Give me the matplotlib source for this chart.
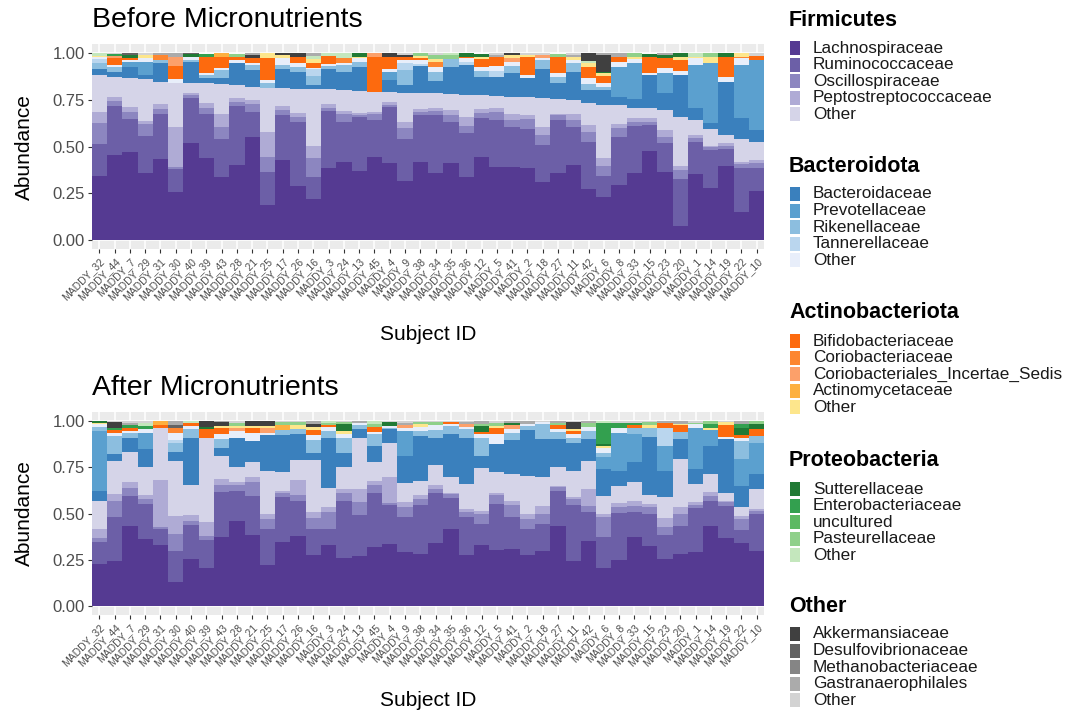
import numpy as np
import matplotlib
matplotlib.use("Agg")
import matplotlib.pyplot as plt
from matplotlib.patches import Rectangle

plt.rcParams["font.family"] = ["Liberation Sans", "DejaVu Sans"]

subjects = ["MADDY_32", "MADDY_44", "MADDY_7", "MADDY_29", "MADDY_31", "MADDY_30", "MADDY_40",
            "MADDY_39", "MADDY_43", "MADDY_28", "MADDY_21", "MADDY_25", "MADDY_17", "MADDY_26",
            "MADDY_16", "MADDY_3", "MADDY_24", "MADDY_13", "MADDY_45", "MADDY_4", "MADDY_9",
            "MADDY_38", "MADDY_34", "MADDY_35", "MADDY_36", "MADDY_12", "MADDY_5", "MADDY_41",
            "MADDY_2", "MADDY_18", "MADDY_27", "MADDY_11", "MADDY_42", "MADDY_6", "MADDY_8",
            "MADDY_33", "MADDY_15", "MADDY_23", "MADDY_20", "MADDY_1", "MADDY_14", "MADDY_19",
            "MADDY_22", "MADDY_10"]

# legend groups: (phylum, [(key, family, colour), ...])
groups = [
    ("Firmicutes", [("LA", "Lachnospiraceae", "#553a92"), ("RU", "Ruminococcaceae", "#6c5fa7"),
                    ("OS", "Oscillospiraceae", "#8c86c0"), ("PE", "Peptostreptococcaceae", "#afabd5"),
                    ("FO", "Other", "#d5d4e8")]),
    ("Bacteroidota", [("BA", "Bacteroidaceae", "#3a80bd"), ("PR", "Prevotellaceae", "#5ba0cf"),
                      ("RI", "Rikenellaceae", "#8cbedf"), ("TA", "Tannerellaceae", "#bad6ee"),
                      ("BO", "Other", "#e8eefa")]),
    ("Actinobacteriota", [("BI", "Bifidobacteriaceae", "#fd6a0e"), ("CO", "Coriobacteriaceae", "#fd8630"),
                          ("CI", "Coriobacteriales_Incertae_Sedis", "#fca06a"),
                          ("AC", "Actinomycetaceae", "#fdb040"), ("AO", "Other", "#fde68c")]),
    ("Proteobacteria", [("SU", "Sutterellaceae", "#217a35"), ("EN", "Enterobacteriaceae", "#33a04f"),
                        ("UN", "uncultured", "#5db963"), ("PA", "Pasteurellaceae", "#8fd08a"),
                        ("PO", "Other", "#c4e7bd")]),
    ("Other", [("AK", "Akkermansiaceae", "#404040"), ("DE", "Desulfovibrionaceae", "#636363"),
               ("ME", "Methanobacteriaceae", "#858585"), ("GA", "Gastranaerophilales", "#ababab"),
               ("OO", "Other", "#d3d3d3")]),
]

# ---- Before: cumulative tops of the lower stack
lachno_top_b = [.343, .455, .473, .361, .434, .259, .518, .4375, .339, .402, .554, .1875, .429, .289, .218,
                .384, .42, .371, .446, .414, .318, .42, .357, .41, .339, .443, .393, .389, .384, .3125,
                .357, .402, .271, .229, .295, .361, .479, .366, .075, .354, .277, .396, .152, .264]
rumino_top_b = [.514, .718, .646, .559, .675, .379, .759, .675, .541, .718, .6875, .366, .67, .634, .339,
                .691, .634, .661, .643, .714, .539, .67, .67, .634, .575, .652, .643, .604, .593, .509,
                .643, .604, .527, .343, .554, .611, .616, .521, .325, .527, .482, .486, .384, .384]
oscillo_top_b = [.629, .745, .688, .620, .702, .393, .777, .705, .604, .741, .729, .446, .696, .661, .4375,
                 .705, .675, .67, .675, .723, .598, .6875, .693, .67, .611, .682, .6875, .643, .646, .5625,
                 .67, .643, .58, .396, .598, .634, .634, .554, .375, .545, .496, .504, .407, .411]
pepto_top_b = [.688, .768, .711, .638, .727, .604, .786, .732, .675, .7625, .75, .58, .718, .682, .504,
               .727, .693, .682, .6875, .741, .634, .70, .707, .696, .657, .70, .705, .675, .67, .607,
               .675, .675, .616, .4375, .621, .652, .652, .589, .396, .5625, .504, .518, .42, .429]
firm_top_b = [.886, .875, .868, .861, .848, .843, .843, .839, .836, .830, .818, .8125, .8125, .809, .807,
              .807, .804, .80, .795, .795, .789, .786, .786, .78, .777, .777, .771, .768, .764, .7625,
              .754, .75, .732, .723, .723, .705, .705, .696, .661, .643, .593, .5625, .539, .527]
bacteroid_top_b = [.914, .898, .929, .882, .946, .843, .955, .866, .866, .95, .911, .8125, .914, .902, .830,
                   .914, .902, .925, .795, .857, .830, .932, .854, .929, .937, .875, .875, .893, .866, .914,
                   .839, .902, .804, .804, .768, .754, .884, .786, .884, .705, .625, .848, .652, .589]
# minor families on top of Bacteroidaceae, one dict per subject
upper_b = [
    dict(RI=.032, TA=.021, BO=.011, AO=.008, PO=.014),
    dict(RI=.030, BO=.008, BI=.038, CI=.010, EN=.012, OO=.004),
    dict(PR=.027, BO=.009, BI=.009, SU=.018, DE=.008),
    dict(PR=.073, BO=.018, AO=.018, OO=.009),
    dict(RI=.018, CO=.027, GA=.009),
    dict(BO=.018, BI=.071, CI=.050, GA=.018),
    dict(RI=.009, BO=.018, SU=.014, DE=.004),
    dict(RI=.018, BO=.012, BI=.082, EN=.020),
    dict(RI=.045, BO=.009, BI=.0625, AC=.018),
    dict(BO=.014, BI=.014, PA=.020),
    dict(RI=.027, BO=.012, BI=.023, AK=.018, GA=.009),
    dict(RI=.027, BO=.018, BI=.116, AO=.027),
    dict(RI=.023, BO=.036, AO=.018, AK=.009),
    dict(RI=.027, BO=.018, BI=.036, AK=.017),
    dict(RI=.050, TA=.034, BO=.005, BI=.030, AO=.023, GA=.013, PO=.015),
    dict(RI=.018, BO=.011, BI=.043, PO=.014),
    dict(RI=.036, BO=.012, CO=.023, PO=.027),
    dict(RI=.030, BO=.018, AO=.009, SU=.018),
    dict(BI=.1875, CI=.018),
    dict(PR=.045, BO=.012, BI=.068, AK=.018),
    dict(RI=.080, TA=.036, BO=.018, BI=.014, AK=.014, OO=.008),
    dict(TA=.012, BO=.018, BI=.014, AO=.010, PA=.014),
    dict(RI=.048, BO=.027, CO=.027, AO=.013, PA=.023, OO=.008),
    dict(RI=.040, PA=.020, PO=.011),
    dict(TA=.018, BO=.018, BI=.009, SU=.018),
    dict(RI=.032, BO=.021, BI=.039, AO=.011, SU=.020),
    dict(TA=.030, BO=.027, BI=.048, GA=.010, OO=.010),
    dict(RI=.040, BO=.0225, CI=.021, AO=.015, AK=.009),
    dict(BO=.018, BI=.095, AO=.013, OO=.008),
    dict(RI=.050, BO=.010, CI=.018, OO=.008),
    dict(RI=.036, BO=.021, BI=.082, PA=.020),
    dict(RI=.045, BO=.018, AO=.013, GA=.013, OO=.009),
    dict(RI=.032, BO=.030, BI=.0625, AO=.021, AK=.041, PO=.009),
    dict(RI=.018, BO=.018, BI=.039, AO=.014, SU=.009, AK=.089, GA=.010),
    dict(PR=.160, BO=.027, BI=.027, GA=.018),
    dict(PR=.196, BO=.018, AO=.013, PA=.020),
    dict(BO=.009, BI=.086, SU=.018),
    dict(PR=.107, BO=.027, BI=.054, SU=.018, GA=.008),
    dict(BO=.023, BI=.057, AO=.018, SU=.018),
    dict(PR=.232, BO=.036, AO=.009, PO=.018),
    dict(PR=.321, AO=.036, PA=.018),
    dict(BO=.027, BI=.104, SU=.021),
    dict(PR=.286, BO=.036, CO=.008, AO=.018),
    dict(PR=.375, BI=.023, OO=.013),
]

# ---- After
lachno_top_a = [.229, .242, .432, .36, .328, .131, .256, .206, .373, .462, .382, .224, .346, .378, .274,
                .3315, .26, .271, .319, .337, .292, .283, .342, .418, .278, .3315, .301, .306, .274, .296,
                .432, .242, .349, .206, .247, .373, .324, .256, .283, .292, .435, .367, .342, .296]
rumino_top_a = [.346, .48, .593, .552, .414, .296, .439, .355, .615, .624, .597, .414, .588, .57, .414,
                .414, .57, .493, .611, .547, .48, .547, .611, .582, .48, .444, .552, .48, .418, .444,
                .624, .547, .511, .373, .504, .511, .498, .385, .432, .529, .57, .543, .409, .498]
oscillo_top_a = [.367, .57, .636, .579, .427, .391, .462, .378, .654, .654, .672, .471, .611, .60, .475,
                 .511, .611, .561, .654, .555, .534, .579, .633, .606, .511, .498, .60, .547, .471, .498,
                 .642, .579, .543, .48, .534, .539, .534, .427, .498, .547, .597, .561, .471, .516]
pepto_top_a = [.414, .606, .672, .60, .683, .486, .493, .453, .686, .672, .695, .498, .624, .683, .511,
               .534, .633, .633, .677, .695, .561, .60, .654, .611, .522, .516, .611, .57, .498, .543,
               .65, .588, .633, .498, .557, .57, .552, .475, .534, .561, .618, .57, .486, .525]
firm_top_a = [.570, .785, .833, .753, .964, .785, .654, .91, .812, .754, .78, .731, .722, .79, .79,
              .636, .749, .91, .78, .88, .665, .677, .762, .695, .66, .744, .726, .713, .704, .695,
              .749, .731, .785, .597, .651, .672, .60, .588, .794, .66, .713, .611, .534, .633]
bacteroid_top_a = [.624, .821, .91, .848, .964, .833, .91, .91, .857, .91, .893, .923, .922, .928, .83,
                   .91, .83, .958, .866, .955, .812, .919, .911, .928, .911, .812, .875, .898, .951, .901,
                   .901, .883, .901, .74, .732, .776, .915, .731, .902, .741, .865, .901, .65, .714]
upper_a = [
    dict(PR=.323, RI=.023, BO=.013, AO=.005, SU=.012),
    dict(RI=.099, BO=.018, BI=.013, EN=.014, AK=.032, OO=.003),
    dict(RI=.027, BO=.010, BI=.013, EN=.018, GA=.014, OO=.008),
    dict(PR=.090, BO=.021, EN=.014, PO=.018, OO=.009),
    dict(BI=.015, AC=.021),
    dict(RI=.050, TA=.014, BO=.039, CO=.027, DE=.016, GA=.021),
    dict(RI=.045, BO=.018, BI=.014, PO=.013),
    dict(BI=.048, SU=.011, AK=.031),
    dict(RI=.045, BO=.027, BI=.032, AO=.014, AK=.018, GA=.007),
    dict(BO=.036, CI=.014, AO=.013, PA=.018, OO=.009),
    dict(BO=.045, BI=.023, AO=.010, AK=.029),
    dict(BO=.014, CI=.027, AO=.009, AK=.027),
    dict(RI=.032, AC=.027, PA=.012, OO=.007),
    dict(RI=.030, AO=.022, PA=.014, OO=.006),
    dict(RI=.070, BO=.027, BI=.027, AO=.014, AK=.018, GA=.014),
    dict(RI=.036, BO=.023, BI=.009, PA=.013, PO=.009),
    dict(RI=.081, BO=.018, AO=.018, SU=.036, PA=.011, OO=.006),
    dict(RI=.020, BO=.010, GA=.012),
    dict(RI=.063, BO=.014, BI=.025, PA=.014, PO=.018),
    dict(RI=.010, BO=.008, SU=.020, OO=.007),
    dict(PR=.134, BO=.018, CI=.013, GA=.014, OO=.009),
    dict(RI=.027, BO=.023, AO=.014, PA=.012, OO=.005),
    dict(RI=.041, BO=.025, PA=.018, OO=.005),
    dict(RI=.045, BO=.010, BI=.013, OO=.004),
    dict(RI=.048, BO=.010, CI=.013, GA=.014, OO=.004),
    dict(RI=.099, BO=.018, BI=.014, SU=.032, PA=.011, GA=.014),
    dict(BO=.054, BI=.032, AO=.013, PA=.018, OO=.008),
    dict(RI=.036, BO=.025, CI=.018, SU=.010, GA=.013),
    dict(RI=.021, BO=.014, GA=.014),
    dict(RI=.081, BO=.013, OO=.005),
    dict(RI=.039, BO=.018, BI=.018, PA=.012, GA=.012),
    dict(RI=.027, BO=.018, BI=.018, AO=.013, AK=.036, OO=.005),
    dict(RI=.045, BO=.023, PA=.018, GA=.013),
    dict(PR=.063, RI=.027, BO=.027, AO=.009, SU=.009, EN=.116, PO=.009),
    dict(PR=.203, BO=.025, EN=.030, OO=.010),
    dict(PR=.152, RI=.036, BI=.013, EN=.013, OO=.010),
    dict(RI=.048, AO=.018, PA=.012, OO=.007),
    dict(PR=.134, TA=.099, BI=.025, GA=.011),
    dict(RI=.039, BI=.036, AO=.009, GA=.014),
    dict(PR=.224, BO=.018, PA=.009, OO=.008),
    dict(PR=.086, AO=.014, EN=.021, PA=.014),
    dict(BO=.014, BI=.066, AO=.013, OO=.006),
    dict(PR=.143, RI=.099, BO=.018, BI=.013, SU=.041, EN=.018, GA=.018),
    dict(PR=.170, RI=.036, BI=.036, SU=.029, PA=.015),
]


def heights(tops, upper):
    # tops: cumulative boundaries for LA, RU, OS, PE, FO, BA
    tops = [np.array(t) for t in tops]
    h = {}
    prev = np.zeros(len(subjects))
    for key, t in zip(["LA", "RU", "OS", "PE", "FO", "BA"], tops):
        h[key] = t - prev
        prev = t
    for _, fams in groups:
        for key, _, _ in fams:
            if key not in h:
                h[key] = np.array([u.get(key, 0.0) for u in upper])
    return h


def draw_panel(ax, h, title):
    x = np.arange(len(subjects))
    bottom = np.zeros(len(subjects))
    for _, fams in groups:
        for key, _, col in fams:
            ax.bar(x, h[key], width=1.0, bottom=bottom, color=col, linewidth=0)
            bottom = bottom + h[key]
    ax.set_facecolor("#ebebeb")
    ax.set_axisbelow(True)
    ax.grid(color="white", linewidth=1.1)
    for s in ax.spines.values():
        s.set_visible(False)
    ax.set_xlim(-0.5, len(subjects) - 0.5)
    ax.set_ylim(-0.05, 1.05)
    ax.set_yticks([0, 0.25, 0.5, 0.75, 1.0])
    ax.set_yticklabels(["0.00", "0.25", "0.50", "0.75", "1.00"])
    ax.set_xticks(x)
    ax.set_xticklabels(subjects, rotation=45, ha="right", rotation_mode="anchor")
    ax.tick_params(axis="x", labelsize=7.5, colors="#333333", labelcolor="#4d4d4d", length=3, pad=2)
    ax.tick_params(axis="y", labelsize=12, colors="#333333", labelcolor="#4d4d4d", length=3, pad=2)
    ax.set_ylabel("Abundance", fontsize=15, labelpad=13)
    ax.set_xlabel("Subject ID", fontsize=15, labelpad=16)
    ax.set_title(title, loc="left", fontsize=20.5, pad=12)


def main():
    W, H = 1067, 713
    fig = plt.figure(figsize=(W / 100, H / 100), dpi=100)
    ax1 = fig.add_axes([91.7 / W, 1 - 249.3 / H, 672.6 / W, 205.3 / H])
    ax2 = fig.add_axes([91.7 / W, 1 - 615.3 / H, 672.6 / W, 203.5 / H])

    hb = heights([lachno_top_b, rumino_top_b, oscillo_top_b, pepto_top_b, firm_top_b, bacteroid_top_b], upper_b)
    ha = heights([lachno_top_a, rumino_top_a, oscillo_top_a, pepto_top_a, firm_top_a, bacteroid_top_a], upper_a)
    draw_panel(ax1, hb, "Before Micronutrients")
    draw_panel(ax2, ha, "After Micronutrients")

    # legend, drawn in pixel coordinates
    lg = fig.add_axes([0, 0, 1, 1])
    lg.set_xlim(0, W)
    lg.set_ylim(H, 0)
    lg.axis("off")
    title_y = [20, 166, 313, 461, 606]
    for (phylum, fams), ty in zip(groups, title_y):
        lg.text(789, ty, phylum, fontsize=15.5, fontweight="bold", va="center", ha="left")
        for k, (_, name, col) in enumerate(fams):
            yy = ty + 28 + k * 16.6
            lg.add_patch(Rectangle((790, yy - 7), 10, 14, facecolor=col, edgecolor="none"))
            lg.text(813, yy, name, fontsize=12.3, va="center", ha="left", color="#1a1a1a")

    fig.savefig("out.png", dpi=100)


if __name__ == "__main__":
    main()
